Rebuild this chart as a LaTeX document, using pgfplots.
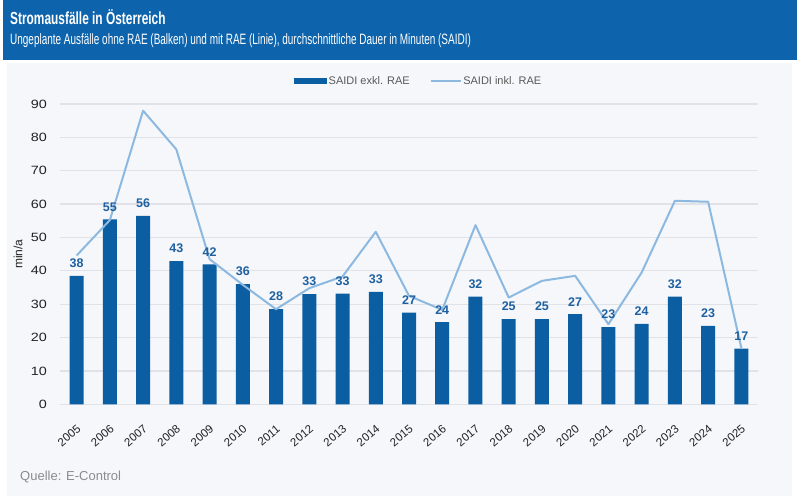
\documentclass[border=0pt]{standalone}
\usepackage{fontspec}
\setmainfont{Liberation Sans}
\newfontfamily\condfont[FakeStretch=0.68]{Liberation Sans}
\newfontfamily\subfont[FakeStretch=0.665]{Liberation Sans}
\newfontfamily\widefont[FakeStretch=1.2]{Liberation Sans}
\usepackage{pgfplots}
\pgfplotsset{compat=1.18}
\usepackage{pgfplotstable}

\definecolor{titleblue}{RGB}{14,100,172}
\definecolor{panel}{RGB}{245,247,250}
\definecolor{barblue}{RGB}{12,94,162}
\definecolor{linecol}{RGB}{141,185,225}
\definecolor{gridcol}{RGB}{224,226,231}
\definecolor{labelblue}{RGB}{30,96,160}
\definecolor{tickcol}{RGB}{34,34,34}
\definecolor{legendgray}{RGB}{89,89,89}
\definecolor{sourcegray}{RGB}{140,140,140}

\pgfplotstableread{
year bar line label
2005 38.5 44.6 38
2006 55.4 55.2 55
2007 56.5 88.0 56
2008 42.9 76.4 43
2009 41.9 43.5 42
2010 36.0 35.8 36
2011 28.5 28.5 28
2012 33.0 34.8 33
2013 33.2 38.3 33
2014 33.7 51.7 33
2015 27.5 32.5 27
2016 24.6 28.3 24
2017 32.3 53.7 32
2018 25.5 32.0 25
2019 25.5 37.0 25
2020 27.0 38.5 27
2021 23.1 24.0 23
2022 24.1 39.5 24
2023 32.3 61.0 32
2024 23.5 60.7 23
2025 16.7 16.8 17
}\datatable

\begin{document}
\begin{tikzpicture}
\useasboundingbox (0,0) rectangle (800pt,499pt);
\fill[white] (0,0) rectangle (800pt,499pt);
\fill[titleblue] (3pt,439pt) rectangle (797pt,499pt);
\fill[panel] (7pt,3pt) rectangle (792pt,436pt);
\node[anchor=base west, inner sep=0pt, text=white] at (10pt,474pt)
  {\fontsize{17.5}{20}\condfont\bfseries Stromausfälle in Österreich};
\node[anchor=base west, inner sep=0pt, text=white] at (10pt,454pt)
  {\fontsize{15}{17}\subfont Ungeplante Ausfälle ohne RAE (Balken) und mit RAE (Linie), durchschnittliche Dauer in Minuten (SAIDI)};
\node[anchor=base west, inner sep=0pt, text=sourcegray] at (20pt,18.5pt)
  {\fontsize{13}{15}\selectfont Quelle: E-Control};
\begin{axis}[
  at={(60pt,94.7pt)}, anchor=south west,
  scale only axis, width=698pt, height=300.3pt,
  xmin=2004.5, xmax=2025.5, ymin=0, ymax=90,
  ytick={0,10,...,90},
  xtick={2005,...,2025},
  axis line style={draw=none},
  major tick length=0pt,
  ymajorgrids, grid style={gridcol, line width=1.3pt},
  /pgf/number format/assume math mode=true,
  /pgf/number format/1000 sep={},
  yticklabel style={font=\fontsize{12}{14}\widefont, text=tickcol, inner sep=0pt, anchor=east, xshift=-13pt},
  xticklabel style={font=\fontsize{11.5}{12}\selectfont, text=tickcol, inner sep=0pt, rotate=40, anchor=north east, xshift=-13pt, yshift=-15pt},
  ylabel={min/a},
  ylabel style={at={(axis description cs:-0.0602,0.5)}, anchor=center, font=\fontsize{12}{14}\selectfont, text=tickcol},
  legend style={at={(axis description cs:0.5136,1.0766)}, anchor=center, draw=none, fill=none,
    legend columns=2, font=\fontsize{11}{13}\selectfont, text=legendgray,
    /tikz/every even column/.append style={column sep=18pt}},
  legend cell align=left,
]
\addplot[ybar, bar width=14pt, fill=barblue, draw=none,
  legend image code/.code={\fill[barblue] (0pt,-3pt) rectangle (33pt,3pt);}]
  table[x=year,y=bar]{\datatable};
\addlegendentry{SAIDI exkl. RAE}
\addplot[linecol, line width=2pt, mark=none, line join=round,
  legend image code/.code={\draw[linecol, line width=1.5pt] (0pt,0pt) -- (30pt,0pt);}]
  table[x=year,y=line]{\datatable};
\addlegendentry{SAIDI inkl. RAE}
\addplot[draw=none, mark=none, forget plot, nodes near coords, point meta=explicit symbolic,
  nodes near coords style={font=\fontsize{12.5}{14}\selectfont\bfseries, text=labelblue, inner sep=0pt, anchor=south, yshift=8pt}]
  table[x=year,y=bar,meta=label]{\datatable};
\end{axis}
\end{tikzpicture}
\end{document}
